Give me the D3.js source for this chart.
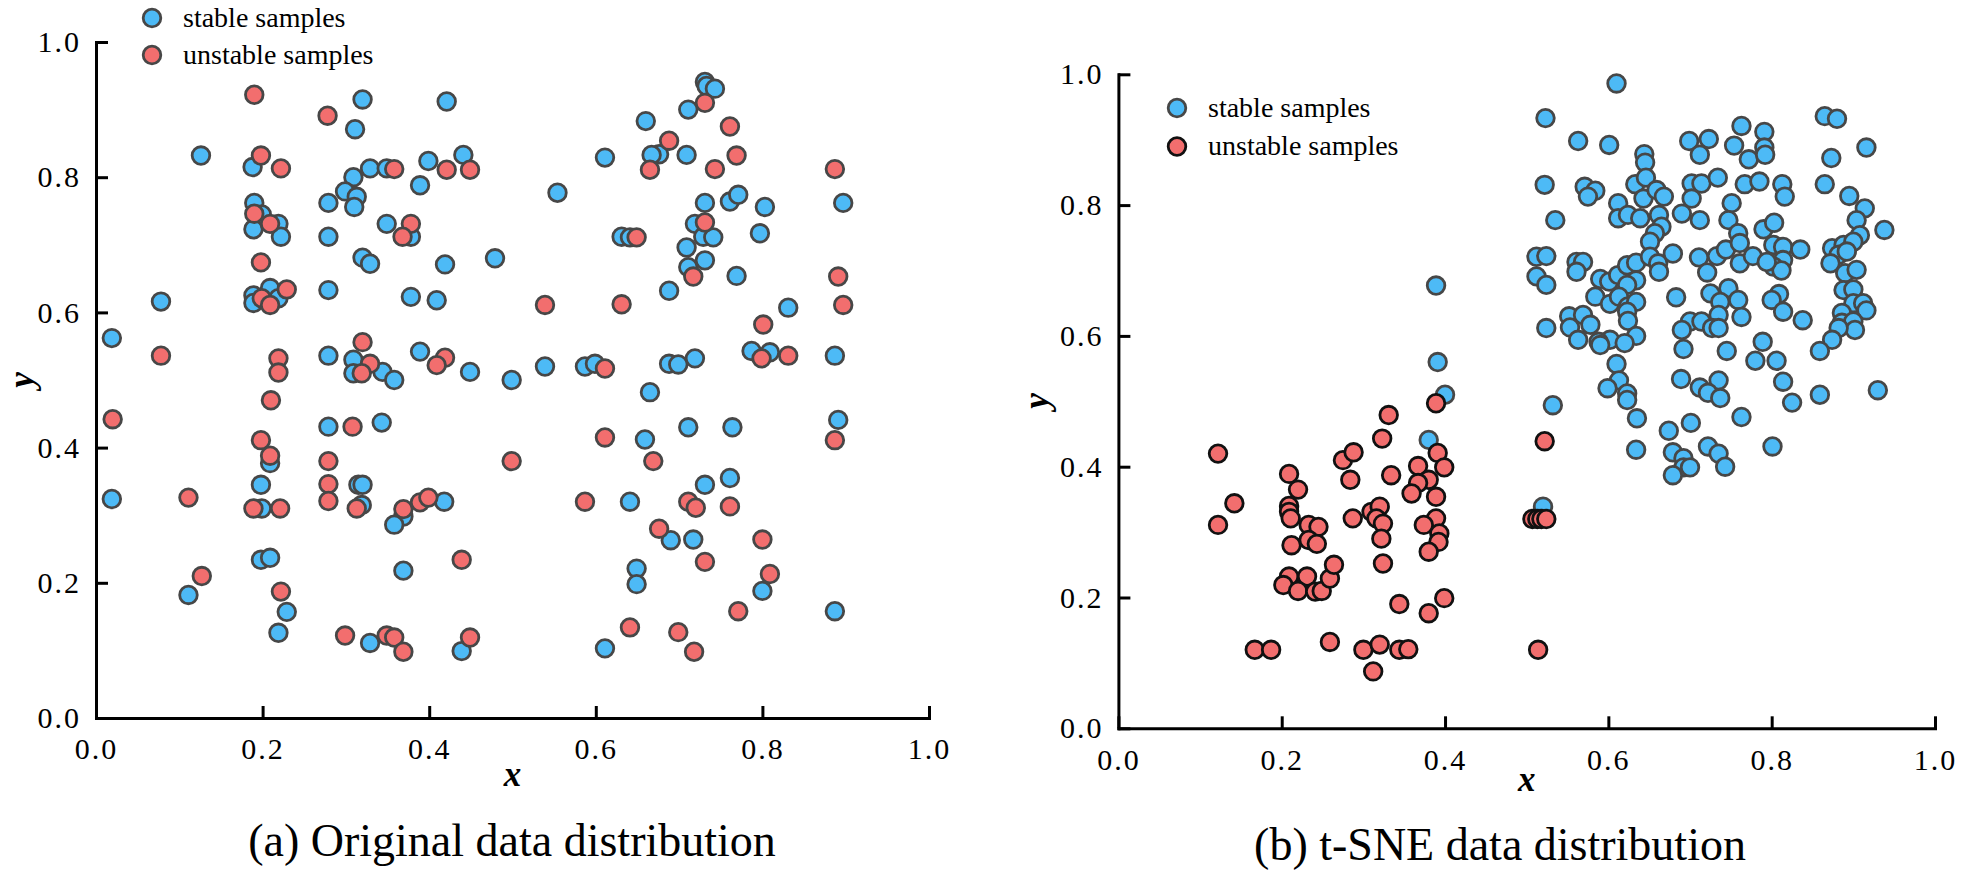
<!DOCTYPE html>
<html>
<head>
<meta charset="utf-8">
<script src="https://cdn.jsdelivr.net/npm/d3@7/dist/d3.min.js"></script>
<style>
  html, body { margin: 0; padding: 0; background: #ffffff; }
  svg { display: block; }
</style>
</head>
<body>
<svg id="chart" width="1961" height="871"></svg>
<script>
// ---------------- DATA ----------------
const tickValues = [0, 0.2, 0.4, 0.6, 0.8, 1.0];
const seriesNames = ["stable samples", "unstable samples"];
const panelTitles = ["(a) Original data distribution", "(b) t-SNE data distribution"];

// (a) original data: [x, y]
const origStable = [
  [0.320,0.915],[0.311,0.871],[0.421,0.912],[0.126,0.832],[0.188,0.815],[0.309,0.800],[0.329,0.813],
  [0.349,0.813],[0.399,0.824],[0.441,0.833],[0.389,0.788],[0.299,0.779],[0.313,0.771],[0.310,0.756],
  [0.279,0.762],[0.190,0.762],[0.199,0.745],[0.219,0.731],[0.189,0.723],[0.222,0.712],[0.279,0.712],
  [0.349,0.731],[0.378,0.712],[0.320,0.681],[0.329,0.672],[0.419,0.671],[0.479,0.680],[0.078,0.616],
  [0.189,0.625],[0.209,0.636],[0.189,0.614],[0.219,0.621],[0.279,0.633],[0.378,0.623],[0.409,0.618],
  [0.019,0.562],[0.279,0.536],[0.309,0.530],[0.309,0.510],[0.344,0.512],[0.358,0.500],[0.389,0.542],
  [0.449,0.512],[0.499,0.500],
  [0.731,0.941],[0.733,0.935],[0.743,0.931],[0.711,0.900],[0.660,0.883],[0.611,0.829],[0.676,0.834],
  [0.667,0.833],[0.709,0.833],[0.554,0.777],[0.731,0.762],[0.761,0.764],[0.771,0.774],[0.803,0.756],
  [0.897,0.762],[0.631,0.712],[0.641,0.711],[0.719,0.731],[0.729,0.712],[0.741,0.711],[0.797,0.717],
  [0.709,0.696],[0.711,0.667],[0.731,0.677],[0.769,0.654],[0.688,0.632],[0.831,0.607],[0.787,0.543],
  [0.809,0.541],[0.887,0.536],[0.539,0.520],[0.587,0.520],[0.599,0.524],[0.688,0.524],[0.699,0.523],
  [0.719,0.532],[0.665,0.482],
  [0.279,0.431],[0.343,0.437],[0.209,0.377],[0.198,0.345],[0.315,0.345],[0.320,0.345],[0.019,0.324],
  [0.199,0.310],[0.319,0.315],[0.369,0.298],[0.358,0.286],[0.418,0.320],[0.198,0.234],[0.209,0.237],
  [0.369,0.218],[0.111,0.182],[0.229,0.157],[0.219,0.126],[0.329,0.111],[0.439,0.099],
  [0.659,0.412],[0.711,0.430],[0.764,0.430],[0.891,0.441],[0.761,0.355],[0.731,0.345],[0.641,0.320],
  [0.690,0.263],[0.717,0.264],[0.649,0.221],[0.649,0.198],[0.800,0.188],[0.887,0.158],[0.611,0.103]
];
const origUnstable = [
  [0.190,0.922],[0.278,0.891],[0.198,0.832],[0.222,0.813],[0.358,0.812],[0.421,0.811],[0.449,0.811],
  [0.190,0.746],[0.209,0.731],[0.378,0.731],[0.368,0.712],[0.198,0.674],[0.229,0.634],[0.199,0.621],
  [0.209,0.611],[0.078,0.536],[0.219,0.532],[0.219,0.511],[0.320,0.556],[0.329,0.524],[0.319,0.510],
  [0.419,0.533],[0.409,0.522],
  [0.731,0.910],[0.761,0.875],[0.688,0.854],[0.665,0.811],[0.743,0.812],[0.769,0.832],[0.887,0.812],
  [0.649,0.711],[0.731,0.733],[0.717,0.653],[0.891,0.653],[0.539,0.611],[0.631,0.612],[0.897,0.611],
  [0.801,0.582],[0.799,0.532],[0.831,0.536],[0.611,0.517],
  [0.210,0.470],[0.020,0.442],[0.308,0.431],[0.198,0.411],[0.209,0.388],[0.279,0.380],[0.499,0.380],
  [0.279,0.346],[0.111,0.326],[0.189,0.310],[0.221,0.310],[0.279,0.321],[0.313,0.310],[0.369,0.309],
  [0.389,0.319],[0.399,0.326],[0.439,0.234],[0.127,0.210],[0.222,0.187],[0.299,0.122],[0.349,0.122],
  [0.358,0.119],[0.369,0.098],[0.449,0.119],
  [0.611,0.415],[0.887,0.411],[0.669,0.380],[0.587,0.320],[0.711,0.320],[0.720,0.311],[0.761,0.313],
  [0.676,0.280],[0.800,0.264],[0.731,0.231],[0.809,0.213],[0.771,0.158],[0.641,0.134],[0.699,0.127],
  [0.718,0.098]
];

// (b) t-SNE data: [x, y]
const tsneStable = [
  [0.389,0.677],[0.391,0.560],[0.400,0.510],[0.380,0.441],[0.520,0.339],[0.532,0.494],
  [0.610,0.986],[0.523,0.933],[0.563,0.898],[0.601,0.892],[0.644,0.878],[0.645,0.865],[0.699,0.898],
  [0.723,0.901],[0.712,0.877],[0.754,0.891],[0.763,0.921],[0.791,0.912],[0.791,0.888],[0.772,0.870],
  [0.792,0.877],[0.865,0.936],[0.880,0.932],[0.873,0.872],[0.916,0.888],[0.522,0.831],[0.571,0.828],
  [0.584,0.822],[0.575,0.813],[0.612,0.803],[0.633,0.832],[0.646,0.842],[0.643,0.810],[0.659,0.823],
  [0.668,0.813],[0.702,0.833],[0.714,0.833],[0.702,0.810],[0.734,0.842],[0.767,0.832],[0.785,0.836],
  [0.813,0.832],[0.816,0.813],[0.751,0.803],[0.865,0.832],[0.895,0.814],[0.914,0.795],
  [0.535,0.777],[0.612,0.780],[0.624,0.785],[0.639,0.780],[0.662,0.785],[0.665,0.767],[0.657,0.757],
  [0.690,0.787],[0.712,0.777],[0.747,0.777],[0.759,0.757],[0.790,0.763],[0.803,0.773],[0.904,0.777],
  [0.938,0.762],[0.908,0.754],[0.651,0.744],[0.512,0.721],[0.524,0.722],[0.512,0.691],[0.524,0.678],
  [0.561,0.713],[0.569,0.713],[0.561,0.698],[0.590,0.687],[0.601,0.683],[0.612,0.693],[0.623,0.708],
  [0.634,0.712],[0.634,0.685],[0.623,0.678],[0.651,0.721],[0.661,0.711],[0.662,0.698],[0.679,0.726],
  [0.584,0.660],[0.602,0.649],[0.613,0.660],[0.624,0.645],[0.634,0.652],[0.623,0.637],[0.552,0.630],
  [0.569,0.632],[0.553,0.613],[0.578,0.617],[0.524,0.612],[0.563,0.594],[0.624,0.623],[0.634,0.600],
  [0.602,0.594],[0.588,0.591],[0.683,0.659],[0.711,0.720],[0.721,0.697],[0.733,0.722],[0.744,0.732],
  [0.761,0.742],[0.761,0.711],[0.777,0.722],[0.802,0.739],[0.814,0.736],[0.835,0.732],[0.814,0.716],
  [0.802,0.706],[0.812,0.700],[0.794,0.713],[0.725,0.665],[0.747,0.673],[0.737,0.652],[0.759,0.655],
  [0.735,0.632],[0.763,0.629],[0.809,0.664],[0.800,0.655],[0.814,0.637],[0.838,0.624],[0.700,0.622],
  [0.690,0.609],[0.714,0.622],[0.727,0.612],[0.735,0.612],[0.789,0.591],[0.874,0.734],[0.888,0.739],
  [0.900,0.744],[0.882,0.724],[0.892,0.729],[0.872,0.711],[0.890,0.696],[0.904,0.701],[0.888,0.670],
  [0.900,0.671],[0.900,0.650],[0.912,0.650],[0.916,0.639],[0.886,0.635],[0.886,0.620],[0.900,0.622],
  [0.902,0.609],[0.882,0.612],[0.874,0.594],
  [0.590,0.586],[0.620,0.589],[0.692,0.580],[0.745,0.577],[0.859,0.577],[0.610,0.557],[0.613,0.532],
  [0.599,0.520],[0.623,0.512],[0.623,0.502],[0.635,0.474],[0.689,0.534],[0.712,0.521],[0.735,0.532],
  [0.722,0.513],[0.737,0.505],[0.780,0.562],[0.806,0.562],[0.814,0.530],[0.825,0.498],[0.859,0.510],
  [0.930,0.517],[0.763,0.476],[0.701,0.467],[0.674,0.455],[0.634,0.426],[0.679,0.422],[0.692,0.413],
  [0.692,0.399],[0.700,0.399],[0.679,0.387],[0.722,0.431],[0.735,0.420],[0.743,0.400],[0.801,0.431]
];
const tsneUnstable = [
  [0.122,0.420],[0.142,0.344],[0.122,0.311],[0.209,0.389],[0.220,0.365],[0.209,0.340],[0.209,0.331],
  [0.211,0.321],[0.233,0.311],[0.245,0.308],[0.212,0.280],[0.233,0.288],[0.243,0.282],[0.209,0.232],
  [0.231,0.232],[0.202,0.219],[0.220,0.210],[0.241,0.209],[0.249,0.210],[0.259,0.229],[0.264,0.250],
  [0.275,0.410],[0.288,0.422],[0.284,0.380],[0.287,0.321],[0.331,0.479],[0.323,0.443],[0.334,0.387],
  [0.310,0.331],[0.320,0.339],[0.316,0.321],[0.324,0.313],[0.322,0.290],[0.324,0.252],[0.389,0.497],
  [0.391,0.421],[0.399,0.399],[0.367,0.401],[0.380,0.380],[0.367,0.375],[0.359,0.359],[0.389,0.354],
  [0.389,0.321],[0.374,0.311],[0.393,0.298],[0.392,0.285],[0.380,0.270],[0.399,0.199],[0.344,0.190],
  [0.380,0.176],[0.167,0.120],[0.187,0.120],[0.259,0.132],[0.300,0.120],[0.320,0.128],[0.344,0.120],
  [0.355,0.121],[0.312,0.087],[0.514,0.120],[0.522,0.439],[0.507,0.320],[0.513,0.320],[0.518,0.320],
  [0.524,0.320]
];

// ---------------- STYLE ----------------
const BLUE = "#4dbaf6";
const RED = "#f26e6e";
const GREY = "#474747";
const BLACK = "#111111";
const SERIF = "'Liberation Serif', 'Times New Roman', serif";
const R = 8.8, SW = 2.8;

const svg = d3.select("#chart");

const panels = [
  {
    x0: 96, x1: 929, y0: 718, y1: 42,
    stable: origStable, unstable: origUnstable,
    stableStroke: GREY, unstableStroke: GREY,
    legend: { cx: 152, cy: 18, dy: 37 },
    ytitle: { x: 21, y: 380 }, xtitle: { y: 786 },
    title: { x: 512, y: 856, text: panelTitles[0] }
  },
  {
    x0: 1118.4, x1: 1935, y0: 728.3, y1: 74.3,
    stable: tsneStable, unstable: tsneUnstable,
    stableStroke: GREY, unstableStroke: BLACK,
    legend: { cx: 1177, cy: 108, dy: 38.5 },
    ytitle: { x: 1036, y: 401 }, xtitle: { y: 791 },
    title: { x: 1500, y: 860, text: panelTitles[1] }
  }
];

panels.forEach(p => {
  const x = d3.scaleLinear().domain([0, 1]).range([p.x0, p.x1]);
  const y = d3.scaleLinear().domain([0, 1]).range([p.y0, p.y1]);
  const g = svg.append("g");

  // axes
  const xAxis = d3.axisBottom(x).tickValues(tickValues).tickFormat(d3.format(".1f"))
    .tickSize(-12).tickSizeOuter(0).tickPadding(20);
  const yAxis = d3.axisLeft(y).tickValues(tickValues).tickFormat(d3.format(".1f"))
    .tickSize(-12).tickSizeOuter(0).tickPadding(15);

  const gx = g.append("g").attr("transform", `translate(0,${p.y0})`).call(xAxis);
  const gy = g.append("g").attr("transform", `translate(${p.x0},0)`).call(yAxis);
  [gx, gy].forEach(a => {
    a.select(".domain").attr("stroke", "#000").attr("stroke-width", 3).attr("stroke-linecap", "square");
    a.selectAll(".tick line").attr("stroke", "#000").attr("stroke-width", 3);
    a.selectAll(".tick text").attr("fill", "#000")
      .style("font-family", SERIF).style("font-size", "30px").style("letter-spacing", "2px");
  });

  // points
  const drawPts = (data, fill, stroke) => {
    g.append("g").selectAll("circle").data(data).join("circle")
      .attr("cx", d => x(d[0])).attr("cy", d => y(d[1])).attr("r", R)
      .attr("fill", fill).attr("stroke", stroke).attr("stroke-width", SW);
  };
  drawPts(p.stable, BLUE, p.stableStroke);
  drawPts(p.unstable, RED, p.unstableStroke);

  // legend
  const lg = g.append("g");
  [[BLUE, p.stableStroke], [RED, p.unstableStroke]].forEach((c, i) => {
    const cy = p.legend.cy + i * p.legend.dy;
    lg.append("circle").attr("cx", p.legend.cx).attr("cy", cy).attr("r", R)
      .attr("fill", c[0]).attr("stroke", c[1]).attr("stroke-width", SW);
    lg.append("text").attr("x", p.legend.cx + 31).attr("y", cy).attr("dy", "0.32em")
      .style("font-family", SERIF).style("font-size", "28px").text(seriesNames[i]);
  });

  // axis titles
  g.append("text").attr("x", (p.x0 + p.x1) / 2).attr("y", p.xtitle.y)
    .attr("text-anchor", "middle")
    .style("font-family", SERIF).style("font-size", "35px").style("font-style", "italic").style("font-weight", "bold")
    .text("x");
  g.append("text").attr("transform", `translate(${p.ytitle.x},${p.ytitle.y}) rotate(-90)`)
    .attr("text-anchor", "middle").attr("dy", "0.35em")
    .style("font-family", SERIF).style("font-size", "35px").style("font-style", "italic").style("font-weight", "bold")
    .text("y");

  // panel title
  g.append("text").attr("x", p.title.x).attr("y", p.title.y).attr("text-anchor", "middle")
    .style("font-family", SERIF).style("font-size", "46px").text(p.title.text);
});
</script>
</body>
</html>
